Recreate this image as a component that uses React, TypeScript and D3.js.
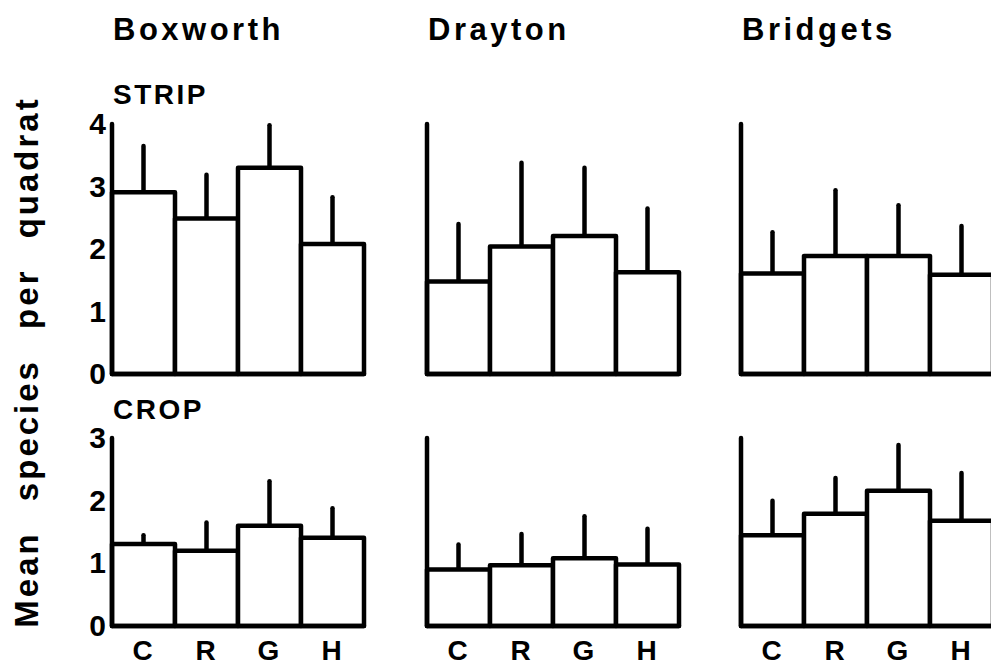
import React from "react";
import * as d3 from "d3";

const sites = ["Boxworth", "Drayton", "Bridgets"];
const rowsLabels = ["STRIP", "CROP"];
const categories = ["C", "R", "G", "H"];

// STRIP means and upper error bar tops, per site
const stripMeans = [
  [2.91, 2.49, 3.3, 2.08],
  [1.48, 2.04, 2.21, 1.63],
  [1.61, 1.89, 1.89, 1.59],
];
const stripUpper = [
  [3.65, 3.19, 3.98, 2.83],
  [2.4, 3.38, 3.3, 2.65],
  [2.27, 2.94, 2.7, 2.37],
];
// CROP means and upper error bar tops
const cropMeans = [
  [1.31, 1.2, 1.6, 1.41],
  [0.9, 0.97, 1.08, 0.98],
  [1.45, 1.79, 2.16, 1.68],
];
const cropUpper = [
  [1.45, 1.65, 2.31, 1.88],
  [1.3, 1.47, 1.75, 1.55],
  [2.0, 2.36, 2.89, 2.44],
];
const stripTicks = [0, 1, 2, 3, 4];
const cropTicks = [0, 1, 2, 3];

const W = 991;
const H = 667;
const FONT = "'Liberation Sans', Arial, Helvetica, sans-serif";

const colX = [112, 427, 741];
const panelW = 252;

export default function App() {
  const rows = [
    { label: rowsLabels[0], means: stripMeans, upper: stripUpper, ticks: stripTicks, max: 4, y0: 374, y1: 124, labelY: 104 },
    { label: rowsLabels[1], means: cropMeans, upper: cropUpper, ticks: cropTicks, max: 3, y0: 626, y1: 438, labelY: 419 },
  ];
  return (
    <svg
      width={W}
      height={H}
      style={{ position: "absolute", left: 0, top: 0, background: "#fff" }}
      fontFamily={FONT}
    >
      {sites.map((s, i) => (
        <text
          key={s}
          x={colX[i] + 1}
          y={40}
          fontSize={31}
          fontWeight="bold"
          letterSpacing={3.5}
        >
          {s}
        </text>
      ))}
      <text
        transform="translate(38,362) rotate(-90)"
        textAnchor="middle"
        fontSize={33}
        fontWeight="bold"
        letterSpacing={3}
        wordSpacing={18}
      >
        Mean species per quadrat
      </text>
      {rows.map((r) => {
        const y = d3.scaleLinear().domain([0, r.max]).range([r.y0, r.y1]);
        return (
          <g key={r.label}>
            <text x={colX[0] + 1} y={r.labelY} fontSize={28} fontWeight="bold" letterSpacing={2.5}>
              {r.label}
            </text>
            {r.ticks.map((t) => (
              <text
                key={t}
                x={colX[0] - 6}
                y={y(t) + 10}
                textAnchor="end"
                fontSize={30}
                fontWeight="bold"
              >
                {t}
              </text>
            ))}
            {sites.map((s, si) => {
              const x = d3
                .scaleBand()
                .domain(categories)
                .range([colX[si], colX[si] + panelW]);
              return (
                <g key={s} stroke="#000" strokeWidth={4.5} strokeLinejoin="round" strokeLinecap="round">
                  {categories.map((c, ci) => {
                    const xc = (x(c) as number) + x.bandwidth() / 2;
                    return (
                      <g key={c}>
                        <line x1={xc} x2={xc} y1={y(r.means[si][ci])} y2={y(r.upper[si][ci])} />
                        <rect
                          x={x(c)}
                          y={y(r.means[si][ci])}
                          width={x.bandwidth()}
                          height={y(0) - y(r.means[si][ci])}
                          fill="#fff"
                        />
                      </g>
                    );
                  })}
                  <line x1={colX[si]} x2={colX[si]} y1={y(0)} y2={y(r.max)} />
                  <line x1={colX[si]} x2={colX[si] + panelW} y1={y(0)} y2={y(0)} />
                </g>
              );
            })}
          </g>
        );
      })}
      {sites.map((s, si) => {
        const x = d3.scaleBand().domain(categories).range([colX[si], colX[si] + panelW]);
        return categories.map((c) => (
          <text
            key={s + c}
            x={(x(c) as number) + x.bandwidth() / 2 - 1}
            y={660}
            textAnchor="middle"
            fontSize={28}
            fontWeight="bold"
          >
            {c}
          </text>
        ));
      })}
    </svg>
  );
}
